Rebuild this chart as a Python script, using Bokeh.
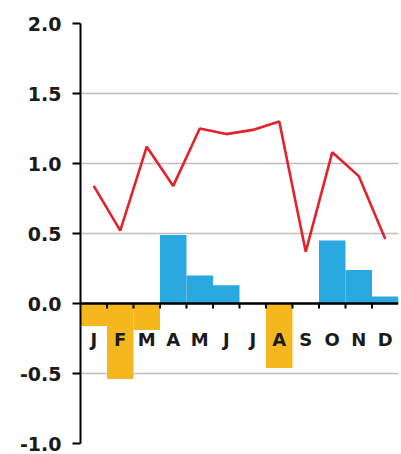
import numpy as np
from bokeh.plotting import figure
from bokeh.models import FixedTicker, PrintfTickFormatter, Range1d, Span, ColumnDataSource
from bokeh.core.properties import value
from bokeh.embed import file_html
from bokeh.resources import INLINE

months = ["J", "F", "M", "A", "M", "J", "J", "A", "S", "O", "N", "D"]
bar_values = [-0.16, -0.54, -0.19, 0.49, 0.20, 0.13, 0.0, -0.46, 0.0, 0.45, 0.24, 0.05]
line_values = [0.84, 0.52, 1.12, 0.84, 1.25, 1.21, 1.24, 1.30, 0.37, 1.08, 0.91, 0.46]
y_ticks = [-1.0, -0.5, 0.0, 0.5, 1.0, 1.5, 2.0]

BLUE = "#2aa8e0"
ORANGE = "#f6b61e"
RED = "#e3232b"
FONT = "DejaVu Sans"

x = np.arange(len(months)) + 0.5
colors = [BLUE if v >= 0 else ORANGE for v in bar_values]
src = ColumnDataSource(dict(x=x, top=bar_values, color=colors, month=months, line=line_values))

p = figure(width=401, height=454, output_backend="svg", toolbar_location=None,
           x_range=Range1d(0, len(months)), y_range=Range1d(-1.0, 2.0),
           min_border_left=80, min_border_right=3, min_border_top=23, min_border_bottom=11)
p.outline_line_color = None
p.background_fill_color = "white"
p.border_fill_color = "white"
p.xaxis.visible = False
p.xgrid.visible = False

p.ygrid.grid_line_color = "#c4bdb9"
p.ygrid.grid_line_width = 1.5

yax = p.yaxis[0]
yax.ticker = FixedTicker(ticks=y_ticks)
yax.formatter = PrintfTickFormatter(format="%.1f")
yax.axis_line_color = "black"
yax.axis_line_width = 2
yax.major_tick_line_color = "black"
yax.major_tick_line_width = 2
yax.major_tick_out = 8
yax.major_tick_in = 0
yax.minor_tick_line_color = None
yax.major_label_standoff = 11
yax.major_label_text_font = FONT
yax.major_label_text_font_style = "bold"
yax.major_label_text_font_size = "19px"
yax.major_label_text_color = "#1a1a1a"

p.vbar(x="x", top="top", bottom=0, width=1.0, fill_color="color", line_color=None, source=src)

p.add_layout(Span(location=0, dimension="width", line_color="black", line_width=2.5))
bx = np.arange(1, len(months))
p.segment(x0=bx, y0=np.zeros(len(bx)), x1=bx, y1=np.full(len(bx), -0.035),
          line_color="black", line_width=2)

p.text(x="x", y=-0.26, text="month", source=src, text_align="center", text_baseline="middle",
       text_font=value(FONT), text_font_style="bold", text_font_size="18px", text_color="#1a1a1a")

p.line(x="x", y="line", source=src, line_color=RED, line_width=2.6)

open("out.html", "w").write(file_html(p, INLINE))
